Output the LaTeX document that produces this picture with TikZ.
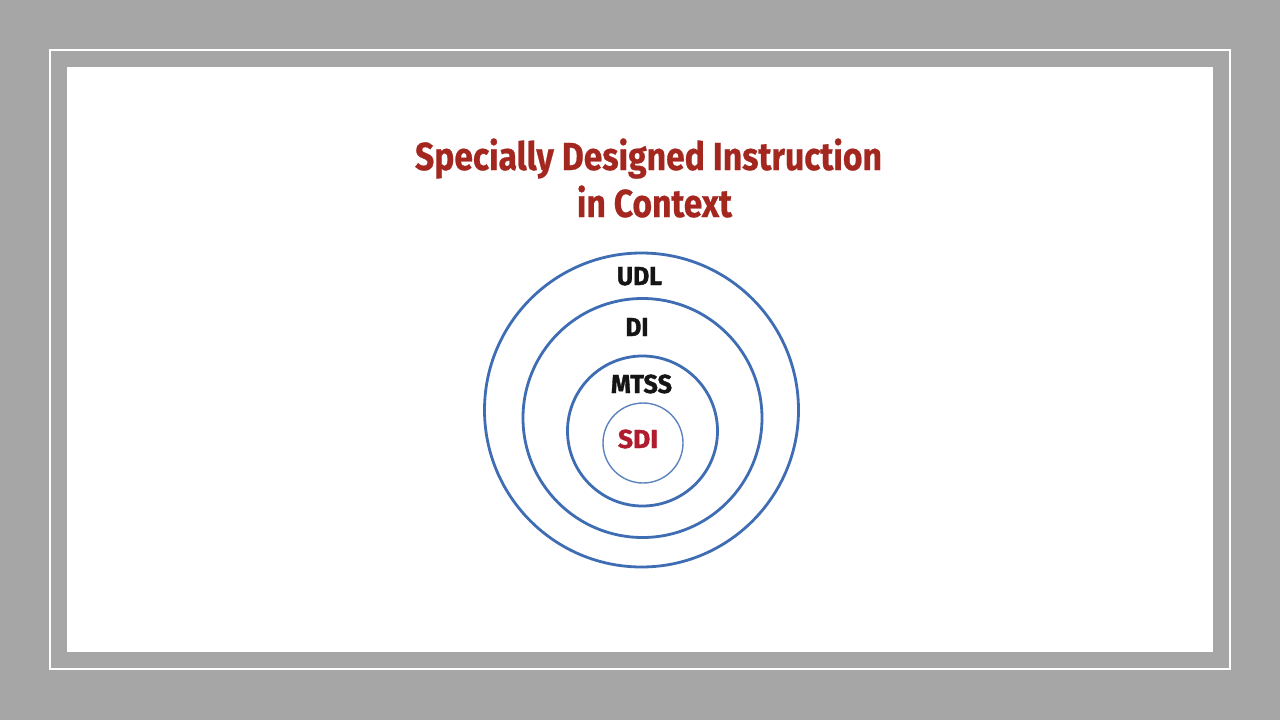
\documentclass[tikz,border=0pt]{standalone}
\usepackage{fontspec}
\usepackage{graphicx}
\setmainfont{Fira Sans}
\newfontfamily\titlefont{Fira Sans}[UprightFont={* Bold},FakeBold=0.6]
\newfontfamily\labelfont{Fira Sans}[UprightFont={* Bold},FakeBold=1.4]
\definecolor{bggray}{HTML}{A6A6A6}
\definecolor{titlered}{HTML}{A3261F}
\definecolor{sdired}{HTML}{B01C2E}
\definecolor{ringblue}{HTML}{3F6DB3}
\definecolor{textblack}{HTML}{151515}
\begin{document}
\begin{tikzpicture}[x=1pt,y=-1pt,
  ring/.style={circle,draw=ringblue,line width=2.8pt,inner sep=0pt},
  thinring/.style={circle,draw=ringblue!85,line width=1.4pt,inner sep=0pt},
  titletext/.style={text=titlered,font=\titlefont\fontsize{39}{39}\selectfont,anchor=base,inner sep=0pt},
  ringlabel/.style={text=textblack,font=\labelfont\fontsize{26}{26}\selectfont,anchor=base,inner sep=0pt}]
\useasboundingbox (0,0) rectangle (1280,720);
\fill[bggray] (0,0) rectangle (1280,720);
\draw[white,line width=2pt] (50,50) rectangle (1230,669);
\fill[white] (67,67) rectangle (1213,652);
% title
\node[titletext] (t1) at (648.5,170) {\resizebox{467pt}{\height}{Specially Designed Instruction}};
\node[titletext] (t2) at (654.5,217) {\resizebox{155pt}{\height}{in Context}};
% rings
\node[ring,minimum size=314pt] (c1) at (641.5,410) {};
\node[ring,minimum size=239pt] (c2) at (642.5,418) {};
\node[ring,minimum size=150pt] (c3) at (642.5,431) {};
\node[thinring,minimum size=80pt] (c4) at (643,443) {};
% labels
\node[ringlabel] (udl) at (639.5,285) {\resizebox{45pt}{\height}{UDL}};
\node[ringlabel] (di) at (637,336) {\resizebox{23pt}{\height}{DI}};
\node[ringlabel] (mtss) at (641.5,393) {\resizebox{61pt}{\height}{MTSS}};
\node[ringlabel,text=sdired] (sdi) at (638,448) {\resizebox{40pt}{\height}{SDI}};
\end{tikzpicture}
\end{document}
